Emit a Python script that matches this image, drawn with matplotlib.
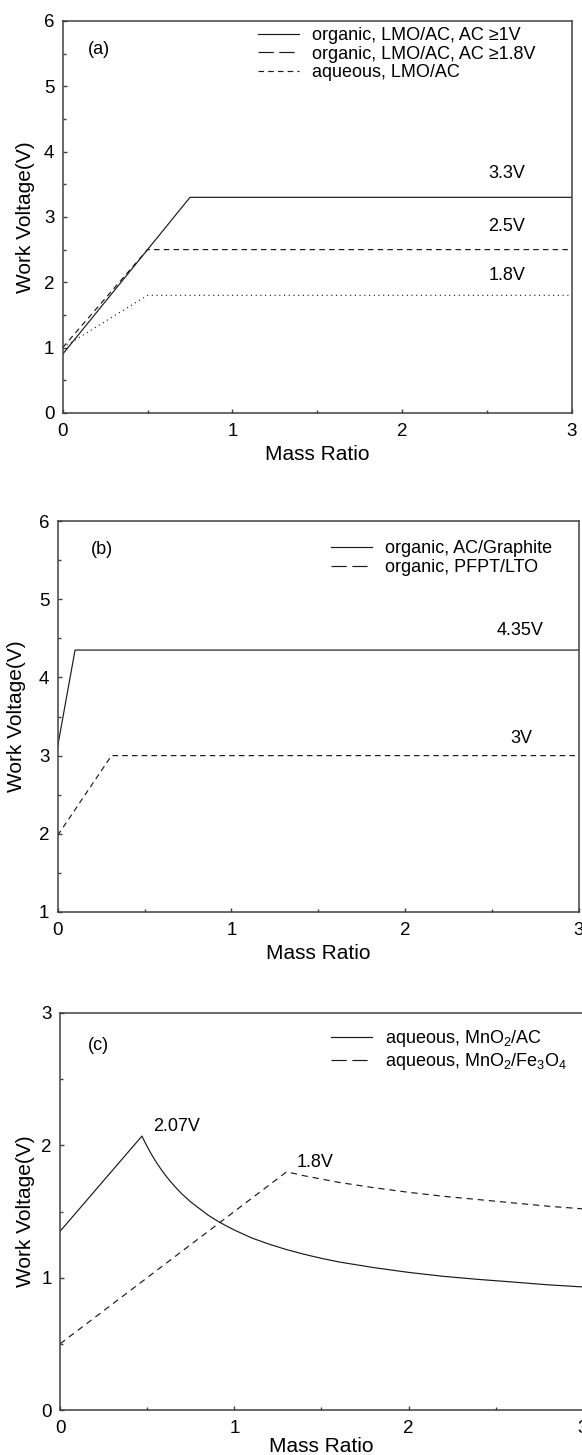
import numpy as np
import matplotlib
matplotlib.use("Agg")
import matplotlib.pyplot as plt
from matplotlib.lines import Line2D
from matplotlib.ticker import MultipleLocator

plt.rcParams['font.family'] = ['Liberation Sans', 'DejaVu Sans']
plt.rcParams['mathtext.fontset'] = 'custom'
plt.rcParams['mathtext.rm'] = 'Liberation Sans'
plt.rcParams['mathtext.it'] = 'Liberation Sans'
plt.rcParams['lines.scale_dashes'] = False

# ===== 数据 =====
# (a) LMO/AC
a_x_org1  = [0.0, 0.75, 3.0]
a_y_org1  = [0.9, 3.3, 3.3]
a_x_org18 = [0.0, 0.5, 3.0]
a_y_org18 = [1.0, 2.5, 2.5]
a_x_aq    = [0.0, 0.5, 3.0]
a_y_aq    = [1.0, 1.8, 1.8]
a_labels  = ["organic, LMO/AC, AC \u22651V", "organic, LMO/AC, AC \u22651.8V", "aqueous, LMO/AC"]
a_notes   = ["3.3V", "2.5V", "1.8V"]

# (b)
b_x_gr  = [0.0, 0.1, 3.0]
b_y_gr  = [3.12, 4.35, 4.35]
b_x_lto = [0.0, 0.31, 3.0]
b_y_lto = [1.98, 3.0, 3.0]
b_labels = ["organic, AC/Graphite", "organic, PFPT/LTO"]
b_notes  = ["4.35V", "3V"]

# (c)
c_x_ac = [0.0, 0.47, 0.49, 0.51, 0.53, 0.55, 0.58, 0.61, 0.64, 0.67, 0.7, 0.75,
          0.8, 0.85, 0.9, 0.95, 1.0, 1.1, 1.2, 1.3, 1.4, 1.5, 1.6, 1.8, 2.0,
          2.2, 2.4, 2.6, 2.8, 3.0]
c_y_ac = [1.35, 2.07, 2.016, 1.966, 1.92, 1.877, 1.818, 1.765, 1.717, 1.673, 1.632, 1.572,
          1.522, 1.472, 1.431, 1.394, 1.36, 1.30, 1.253, 1.212, 1.177, 1.146, 1.119, 1.076,
          1.04, 1.01, 0.987, 0.967, 0.946, 0.93]
c_x_fe = [0.0, 1.3, 1.4, 1.6, 1.8, 2.0, 2.2, 2.4, 2.6, 2.8, 3.0]
c_y_fe = [0.5, 1.8, 1.77, 1.72, 1.68, 1.645, 1.615, 1.59, 1.565, 1.54, 1.52]
c_labels = ["aqueous, MnO$_2$/AC", "aqueous, MnO$_2$/Fe$_3$O$_4$"]
c_notes  = ["2.07V", "1.8V"]

# ===== 样式 =====
LC = '#1a1a1a'
LW = 0.85
FS = 13
solid = '-'
long_dash = (0, (11, 4))
short_dash = (0, (4, 3))
dots = (0, (0.8, 2.6))


def style_axes(ax, ylim, label_x, xlab_y):
    ax.set_xlim(0, 3)
    ax.set_ylim(*ylim)
    ax.xaxis.set_major_locator(MultipleLocator(1))
    ax.xaxis.set_minor_locator(MultipleLocator(0.5))
    ax.yaxis.set_major_locator(MultipleLocator(1))
    ax.yaxis.set_minor_locator(MultipleLocator(0.5))
    ax.tick_params(which='both', direction='in', top=False, right=False,
                   color='#404040', width=1.0)
    ax.tick_params(which='major', length=3, labelsize=13.5)
    ax.tick_params(which='minor', length=2.2)
    ax.tick_params(axis='y', pad=6)
    ax.tick_params(axis='x', pad=7.5)
    for s in ax.spines.values():
        s.set_linewidth(1.1)
        s.set_color('#404040')
    ax.set_xlabel("Mass Ratio", fontsize=15)
    ax.set_ylabel("Work Voltage(V)", fontsize=15)
    ax.yaxis.set_label_coords(label_x, 0.5)
    ax.xaxis.set_label_coords(0.5, xlab_y)


def add_legend(ax, styles, labels, x0, y0):
    handles = [Line2D([], [], color=LC, lw=LW, linestyle=st) for st in styles]
    ax.legend(handles, labels, loc='upper left', bbox_to_anchor=(x0, y0),
              frameon=False, fontsize=FS, borderpad=0, borderaxespad=0,
              handlelength=2.27, handletextpad=0.72, labelspacing=0.1)


fig = plt.figure(figsize=(5.82, 14.55), dpi=100)

# ===== (a) =====
ax1 = fig.add_axes([0.1077, 0.7162, 0.875, 0.2694])
ax1.plot(a_x_org1, a_y_org1, color=LC, lw=LW, linestyle=solid)
ax1.plot(a_x_org18, a_y_org18, color=LC, lw=LW, linestyle=short_dash)
ax1.plot(a_x_aq, a_y_aq, color=LC, lw=LW, linestyle=dots)
style_axes(ax1, (0, 6), -0.054, -0.082)
add_legend(ax1, [solid, long_dash, short_dash], a_labels, 0.3835, 0.985)
ax1.text(0.071, 0.926, "(a)", transform=ax1.transAxes, fontsize=FS, ha='center', va='center')
for txt, xx, yy in zip(a_notes, [2.617, 2.617, 2.617], [3.67, 2.85, 2.10]):
    ax1.text(xx, yy, txt, fontsize=FS, ha='center', va='center')

# ===== (b) =====
ax2 = fig.add_axes([0.0991, 0.3732, 0.8957, 0.2687])
ax2.plot(b_x_gr, b_y_gr, color=LC, lw=LW, linestyle=solid)
ax2.plot(b_x_lto, b_y_lto, color=LC, lw=LW, linestyle=short_dash)
style_axes(ax2, (1, 6), -0.061, -0.082)
add_legend(ax2, [solid, long_dash], b_labels, 0.524, 0.951)
ax2.text(0.085, 0.928, "(b)", transform=ax2.transAxes, fontsize=FS, ha='center', va='center')
for txt, xx, yy in zip(b_notes, [2.66, 2.67], [4.60, 3.22]):
    ax2.text(xx, yy, txt, fontsize=FS, ha='center', va='center')

# ===== (c) =====
ax3 = fig.add_axes([0.1031, 0.0309, 0.8986, 0.2729])
ax3.plot(c_x_ac, c_y_ac, color=LC, lw=LW, linestyle=solid)
ax3.plot(c_x_fe, c_y_fe, color=LC, lw=LW, linestyle=(0, (4.5, 3.5)))
style_axes(ax3, (0, 3), -0.048, -0.068)
add_legend(ax3, [solid, long_dash], c_labels, 0.518, 0.962)
ax3.text(0.074, 0.919, "(c)", transform=ax3.transAxes, fontsize=FS, ha='center', va='center')
for txt, xx, yy in zip(c_notes, [0.671, 1.463], [2.14, 1.867]):
    ax3.text(xx, yy, txt, fontsize=FS, ha='center', va='center')

fig.savefig("out.png", dpi=100)
